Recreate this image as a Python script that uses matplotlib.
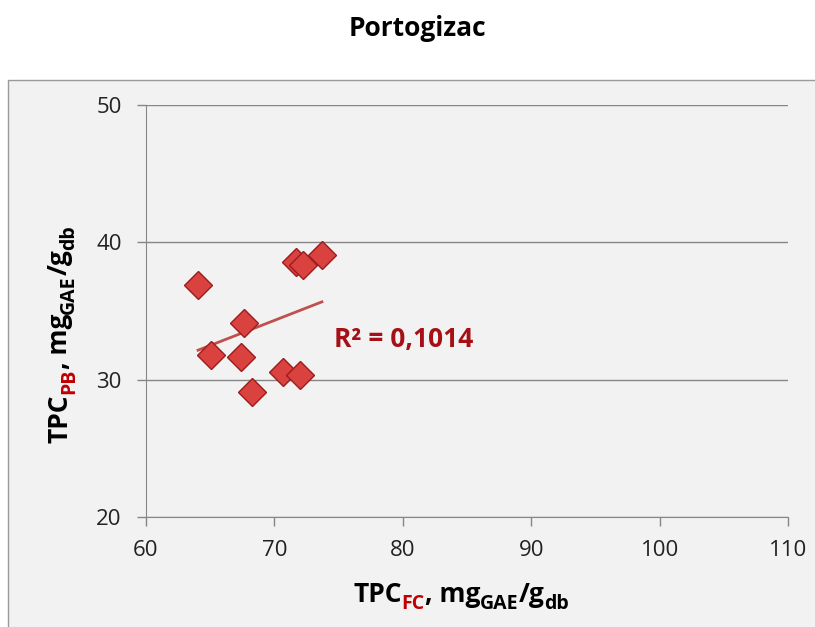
import numpy as np
import matplotlib.pyplot as plt
from matplotlib.patches import Rectangle

# TPC values
tpc_fc = [64.05, 65.1, 67.6, 67.4, 68.25, 70.7, 72.0, 71.7, 72.2, 73.7]
tpc_pb = [36.9, 31.8, 34.1, 31.65, 29.1, 30.55, 30.35, 38.6, 38.35, 39.1]
r2_text = "R² = 0,1014"
title = "Portogizac"
xticks = [60, 70, 80, 90, 100, 110]
yticks = [20, 30, 40, 50]

FONT = ["Open Sans", "DejaVu Sans"]
plt.rcParams["font.family"] = FONT

BG = "#f2f2f2"
RED = "#a50f15"
MARKER_FACE = "#d9423e"
MARKER_EDGE = "#9b1c1c"
TREND = "#c0504d"

fig = plt.figure(figsize=(8.15, 6.27), dpi=100)
W, H = 815, 627

# chart area background with border
fig.patches.append(Rectangle((8 / W, -0.01), 1, 1.01 - 80 / H, transform=fig.transFigure,
                             facecolor=BG, edgecolor="#9a9a9a", linewidth=1.0,
                             zorder=-5))

ax = fig.add_axes([146 / W, 1 - 517 / H, (788 - 146) / W, (517 - 105) / H])
ax.set_zorder(2)
ax.set_facecolor(BG)
ax.set_xlim(60, 110)
ax.set_ylim(20, 50)
ax.set_xticks(xticks)
ax.set_yticks(yticks)
ax.tick_params(labelsize=16, length=6.5, color="#868686", width=1.0,
               labelcolor="#222222")
ax.tick_params(axis="y", pad=11)
ax.tick_params(axis="x", pad=10)
for side in ("top", "right"):
    ax.spines[side].set_visible(False)
for side in ("left", "bottom"):
    ax.spines[side].set_color("#868686")
ax.yaxis.grid(True, color="#868686", linewidth=1.0)
ax.set_axisbelow(True)

# linear trend line over the data range
x = np.array(tpc_fc)
y = np.array(tpc_pb)
k, b = np.polyfit(x, y, 1)
xl = np.array([x.min(), x.max()])
ax.plot(xl, k * xl + b, color=TREND, linewidth=2.0, zorder=2)

ax.plot(x, y, linestyle="none", marker="D", markersize=14,
        markerfacecolor=MARKER_FACE, markeredgecolor=MARKER_EDGE,
        markeredgewidth=1.0, zorder=3)

fig.text(334 / W, 1 - 340 / H, r2_text, color=RED, zorder=5,
         fontsize=19, fontweight="bold", ha="left", va="center")

fig.text(417 / W, 1 - 28 / H, title, fontsize=19, fontweight="bold",
         ha="center", va="center")


def rich_label(pieces, x0, y0, rotation=0):
    # draw text pieces one after another, measuring each width
    renderer = fig.canvas.get_renderer()
    pos = 0.0
    for s, color, size, shift in pieces:
        if rotation == 0:
            t = fig.text((x0 + pos) / W, (y0 + shift) / H, s, color=color,
                         fontsize=size, fontweight="bold", ha="left",
                         va="baseline")
            pos += t.get_window_extent(renderer).width
        else:
            t = fig.text((x0 - shift) / W, (y0 + pos) / H, s, color=color,
                         fontsize=size, fontweight="bold", ha="left",
                         va="baseline", rotation=90, rotation_mode="anchor")
            pos += t.get_window_extent(renderer).height


xl_pieces = [("TPC", "black", 19, 0), ("FC", "#c00000", 14, -7),
             (", mg", "black", 19, 0), ("GAE", "black", 14, -7),
             ("/g", "black", 19, 0), ("db", "black", 14, -7)]
rich_label(xl_pieces, 353, H - 602)

yl_pieces = [("TPC", "black", 19, 0), ("PB", "#c00000", 14, -7),
             (", mg", "black", 19, 0), ("GAE", "black", 14, -7),
             ("/g", "black", 19, 0), ("db", "black", 14, -7)]
rich_label(yl_pieces, 67, H - 443, rotation=90)

fig.savefig("out.png", dpi=100, facecolor="white")
